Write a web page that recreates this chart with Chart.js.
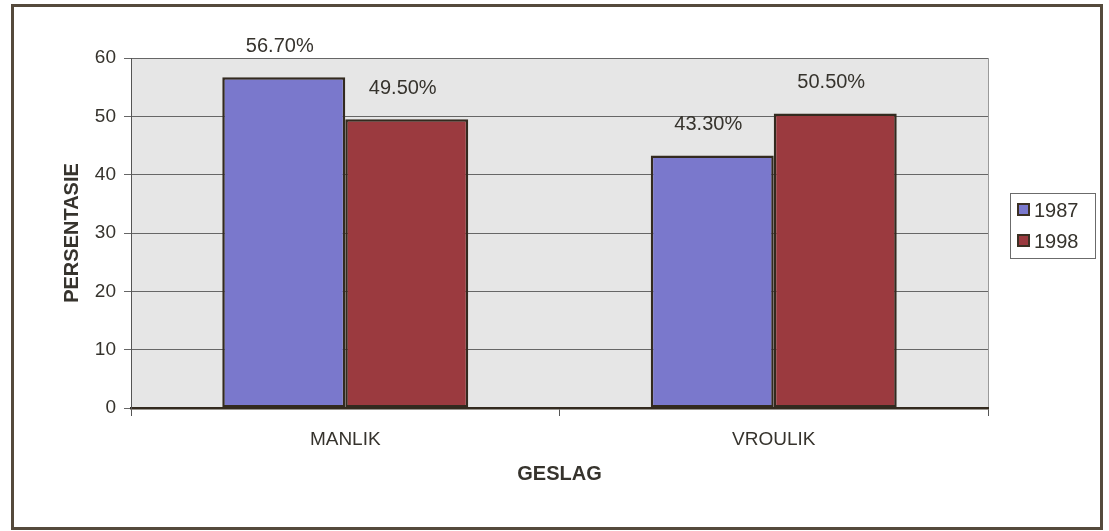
<!DOCTYPE html>
<html>
<head>
<meta charset="utf-8">
<script src="https://cdn.jsdelivr.net/npm/chart.js@4.4.0/dist/chart.umd.min.js"></script>
<style>
  html, body { margin: 0; padding: 0; background: #fff; }
  #wrap { position: relative; width: 1109px; height: 531px; }
  #frame {
    position: absolute; left: 11px; top: 4px; width: 1086px; height: 520px;
    border: 3px solid #554a3c; pointer-events: none;
  }
  canvas { position: absolute; left: 0; top: 0; }
</style>
</head>
<body>
<div id="wrap">
  <canvas id="chart" width="1109" height="531"></canvas>
  <div id="frame"></div>
</div>
<script>
// dados do grafico
const categorias = ['MANLIK', 'VROULIK'];
const anos = ['1987', '1998'];
const valores1987 = [56.7, 43.3];
const valores1998 = [49.5, 50.5];
const yTicks = [0, 10, 20, 30, 40, 50, 60];

const FONT = "'Liberation Sans', Arial, sans-serif";
const TXT = '#36332d';
const cores = ['#7a78cc', '#9b3a3f'];

// fundo cinza da area do grafico
const fundoPlot = {
  id: 'fundoPlot',
  beforeDraw(chart) {
    const { ctx, chartArea: a } = chart;
    ctx.save();
    ctx.fillStyle = '#e6e6e6';
    ctx.fillRect(a.left, a.top, a.right - a.left, a.bottom - a.top);
    ctx.strokeStyle = '#9a9a9a';
    ctx.lineWidth = 1;
    ctx.beginPath();
    ctx.moveTo(a.right + 0.5, a.top);
    ctx.lineTo(a.right + 0.5, a.bottom);
    ctx.stroke();
    ctx.restore();
  }
};

// rotulos de porcentagem em cima das barras
const rotulos = {
  id: 'rotulos',
  afterDatasetsDraw(chart) {
    const { ctx } = chart;
    ctx.save();
    ctx.font = '20px ' + FONT;
    ctx.fillStyle = TXT;
    ctx.textAlign = 'center';
    ctx.textBaseline = 'middle';
    chart.data.datasets.forEach((ds, i) => {
      chart.getDatasetMeta(i).data.forEach((bar, j) => {
        ctx.fillText(ds.data[j].toFixed(2) + '%', bar.x - 4, bar.y - 31);
      });
    });
    ctx.restore();
  }
};

// legenda no lado direito
const legenda = {
  id: 'legenda',
  afterDraw(chart) {
    const { ctx } = chart;
    const x = 1010, y = 193, w = 85, h = 65;
    ctx.save();
    ctx.strokeStyle = '#6b6b6b';
    ctx.lineWidth = 1;
    ctx.strokeRect(x + 0.5, y + 0.5, w, h);
    ctx.font = '20px ' + FONT;
    ctx.textBaseline = 'middle';
    chart.data.datasets.forEach((ds, i) => {
      const cy = y + 17 + i * 31;
      ctx.fillStyle = ds.backgroundColor;
      ctx.fillRect(x + 8, cy - 6, 11, 11);
      ctx.strokeStyle = '#3b3023';
      ctx.lineWidth = 2;
      ctx.strokeRect(x + 8, cy - 6, 11, 11);
      ctx.fillStyle = TXT;
      ctx.fillText(ds.label, x + 24, cy + 1);
    });
    ctx.restore();
  }
};

new Chart(document.getElementById('chart'), {
  type: 'bar',
  data: {
    labels: categorias,
    datasets: [
      { label: anos[0], data: valores1987, backgroundColor: cores[0] },
      { label: anos[1], data: valores1998, backgroundColor: cores[1] }
    ]
  },
  options: {
    responsive: false,
    animation: false,
    devicePixelRatio: 1,
    layout: { padding: { left: 56, right: 121, top: 58, bottom: 41 } },
    datasets: {
      bar: {
        categoryPercentage: 0.574,
        barPercentage: 1,
        borderColor: '#332a1f',
        borderWidth: 2.5,
        borderSkipped: false
      }
    },
    plugins: {
      legend: { display: false },
      tooltip: { enabled: false }
    },
    scales: {
      x: {
        afterFit: (s) => { s.height = 82; },
        grid: { drawOnChartArea: false, drawTicks: true, tickLength: 8, color: '#555', offset: true },
        border: { color: '#332a1f', width: 2.5 },
        ticks: { font: { family: FONT, size: 19 }, color: TXT, padding: 12 },
        title: {
          display: true, text: 'GESLAG', color: TXT,
          font: { family: FONT, size: 20, weight: 'bold' },
          padding: { top: 0, bottom: 4 }
        }
      },
      y: {
        min: 0, max: 60,
        afterFit: (s) => { s.width = 75; },
        afterBuildTicks: (s) => { s.ticks = yTicks.map(v => ({ value: v })); },
        grid: { color: '#666', tickLength: 7, lineWidth: 1 },
        border: { color: '#555', width: 1 },
        ticks: { font: { family: FONT, size: 19 }, color: TXT, padding: 8 },
        title: {
          display: true, text: 'PERSENTASIE', color: TXT,
          font: { family: FONT, size: 20, weight: 'bold' },
          padding: { top: 4, bottom: 0 }
        }
      }
    }
  },
  plugins: [fundoPlot, rotulos, legenda]
});
</script>
</body>
</html>
